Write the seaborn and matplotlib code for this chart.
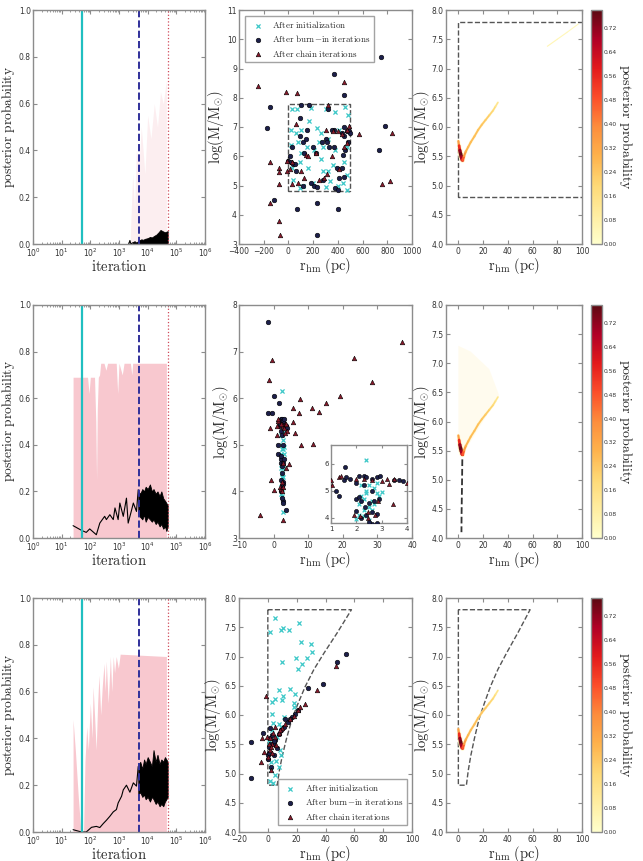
import numpy as np
import matplotlib
matplotlib.use("Agg")
import matplotlib.pyplot as plt
import seaborn as sns
from matplotlib.collections import LineCollection
from matplotlib.cm import ScalarMappable
from matplotlib.colors import Normalize, LinearSegmentedColormap

# ---------------- data ----------------
# iteration panels (left column)
pink1_x = [2500, 3000, 3500, 4000, 5000, 6000, 8000, 10000, 13000, 17000, 22000, 28000, 35000, 45000]
pink1_y = [0.05, 0.3, 0.15, 0.4, 0.35, 0.5, 0.3, 0.55, 0.45, 0.6, 0.5, 0.65, 0.6, 0.7]
line1_x = [2200, 2400, 2600, 3000]
line1_y = [0.0, 0.015, 0.0, 0.005]
dense1_x = [3000, 3500, 4000, 5000, 6000, 7000, 8000, 10000, 12000, 14000, 17000, 20000, 24000, 28000, 33000, 40000, 50000]
dense1_hi = [0.008, 0.012, 0.006, 0.015, 0.02, 0.018, 0.022, 0.025, 0.03, 0.028, 0.035, 0.04, 0.05, 0.06, 0.055, 0.05, 0.055]
dense1_lo = [0.0] * 17

pink2_x = [25, 40, 55, 80, 90, 100, 140, 155, 165, 175, 190, 210, 230, 300, 350, 400, 800, 900, 1000, 1300, 1500, 2500, 2800, 3000, 45000]
pink2_y = [0.69, 0.69, 0.69, 0.69, 0.62, 0.69, 0.69, 0.5, 0.25, 0.55, 0.69, 0.7, 0.75, 0.75, 0.72, 0.75, 0.75, 0.62, 0.75, 0.7, 0.75, 0.75, 0.7, 0.75, 0.75]
line2_x = [25, 49, 72, 95, 162, 214, 316, 363, 479, 631, 724, 933, 1070, 1410, 1820, 2090, 2750, 3160, 4070, 4680]
line2_y = [0.053, 0.033, 0.024, 0.039, 0.014, 0.064, 0.093, 0.079, 0.10, 0.079, 0.129, 0.079, 0.15, 0.093, 0.171, 0.064, 0.12, 0.15, 0.114, 0.207]
dense_x = [4700, 5500, 6500, 7500, 8500, 10000, 12000, 14000, 16000, 19000, 22000, 26000, 30000, 35000, 40000, 45000, 50000]
dense2_hi = [0.2, 0.19, 0.21, 0.2, 0.22, 0.21, 0.23, 0.2, 0.21, 0.19, 0.2, 0.18, 0.2, 0.17, 0.16, 0.15, 0.14]
dense2_lo = [0.1, 0.09, 0.08, 0.1, 0.07, 0.09, 0.08, 0.07, 0.08, 0.06, 0.07, 0.05, 0.06, 0.04, 0.05, 0.03, 0.05]

pink3_x = [25, 30, 38, 45, 50, 58, 65, 75, 85, 100, 115, 125, 140, 160, 180, 200, 230, 260, 300, 330, 360, 420, 500, 560, 630, 700, 800, 950, 1100, 45000]
pink3_y = [0.48, 0.35, 0.15, 0.03, 0.0, 0.0, 0.3, 0.45, 0.35, 0.55, 0.4, 0.62, 0.5, 0.35, 0.55, 0.67, 0.5, 0.62, 0.72, 0.6, 0.73, 0.55, 0.75, 0.6, 0.75, 0.68, 0.75, 0.7, 0.76, 0.75]
line3_x = [25, 49, 72, 110, 162, 214, 282, 363, 479, 631, 813, 933, 1230, 1410, 1820, 2400, 3160, 4070, 4680]
line3_y = [0.01, 0.0, 0.0, 0.02, 0.024, 0.019, 0.036, 0.05, 0.067, 0.086, 0.096, 0.124, 0.153, 0.18, 0.2, 0.17, 0.21, 0.196, 0.28]
dense3_hi = [0.28, 0.3, 0.27, 0.31, 0.29, 0.32, 0.3, 0.28, 0.35, 0.3, 0.33, 0.29, 0.31, 0.3, 0.32, 0.31, 0.3]
dense3_lo = [0.16, 0.17, 0.15, 0.16, 0.14, 0.15, 0.13, 0.15, 0.14, 0.12, 0.13, 0.11, 0.12, 0.11, 0.13, 0.14, 0.15]

iter_marks = [50, 5000, 50000]  # init, burn-in, chain end

# scatter panels (middle column): r_hm (pc), log M
init1_r = [30, 70, 180, 300, 380, 460, 480, 20, 60, 100, 170, 230, 260, 320, 410, 470, 20, 80, 150, 250, 380, 450,
           30, 90, 160, 260, 320, 440, 40, 120, 200, 280, 340, 400, 470, 100, 210, 360, 470, 280, 90, 300]
init1_m = [7.6, 7.6, 7.65, 7.6, 7.5, 7.7, 7.4, 6.9, 6.8, 6.9, 7.2, 6.95, 6.8, 6.6, 6.9, 6.3, 6.4, 6.5, 6.3, 6.5, 6.2, 5.8,
           5.6, 5.8, 5.6, 5.9, 5.5, 5.1, 5.2, 5.0, 5.1, 5.5, 5.15, 5.0, 5.35, 6.1, 6.2, 5.7, 4.85, 6.3, 4.9, 4.95]
burn1_r = [750, 365, 450, -150, -170, 780, 730, 95, 100, 170, 400, 230, 230, 70, -120, 30, 10, 0, 20, 40, 50, 60,
           120, 140, 150, 130, 200, 220, 180, 210, 230, 280, 300, 310, 330, 370, 370, 390, 380, 400, 410,
           430, 450, 430, 450, 470, 490, 500, 480, 440, 350, 270, 120, 90, 320, 450, 460]
burn1_m = [9.4, 8.8, 8.1, 7.7, 6.95, 7.05, 6.2, 7.3, 7.75, 7.75, 4.2, 4.4, 3.3, 4.2, 4.5, 6.3, 6.0, 5.85, 5.8, 5.75, 5.75, 5.5,
           6.5, 6.6, 6.9, 6.1, 6.3, 6.1, 5.1, 5.0, 4.95, 5.2, 6.6, 6.5, 6.3, 6.9, 6.3, 5.6, 4.9, 4.85, 5.25,
           5.6, 5.3, 6.8, 6.7, 6.85, 6.85, 6.8, 6.5, 6.05, 6.9, 6.5, 5.0, 6.7, 7.6, 7.0, 6.2]
chain1_r = [-250, -20, 70, 450, 840, 570, 760, 820, -150, -80, -80, -80, -150, -80, -70, 10, -10, -10, 30, 30, 80, 130,
            140, 160, 220, 250, 290, 300, 310, 360, 410, 470, 490, 470, 430, 450, 100, 60, 320, 400, 350]
chain1_m = [8.4, 8.2, 8.15, 8.55, 6.8, 6.75, 5.05, 5.15, 5.8, 5.6, 5.45, 5.05, 4.4, 3.8, 3.3, 5.55, 5.5, 5.85, 5.05, 5.8, 5.1, 5.25,
            6.05, 6.0, 6.1, 5.2, 5.25, 6.9, 5.4, 6.85, 5.55, 6.9, 7.05, 6.45, 6.75, 6.3, 5.5, 7.1, 7.75, 6.85, 6.0]

init2_r = [2.4, 2.0, 2.1, 2.3, 2.5, 2.6, 2.2, 2.4, 2.7, 2.8, 2.9, 2.5, 2.3, 2.6, 2.7, 2.1, 3.0, 2.4, 2.5, 2.8, 2.2, 2.6, 2.3]
init2_m = [6.15, 3.95, 4.1, 4.3, 4.4, 4.6, 4.8, 5.0, 5.1, 4.9, 4.8, 5.2, 4.7, 4.3, 4.5, 4.5, 4.95, 4.9, 3.9, 5.3, 5.2, 3.55, 4.05]
burn2_r = [-1.5, 0.1, -1.55, -0.6, 2.8, 3.6, 2.6, 1.55, 1.2, 1.3, 1.5, 1.6, 1.75, 2.0, 2.1, 2.3, 2.4, 2.6, 2.8, 2.95, 3.5, 3.7, 3.85,
           2.0, 2.1, 2.2, 2.35, 2.4, 2.6, 2.8, 2.0, 2.2, 2.5, 2.7, 2.5, 2.9, 2.3, 2.6]
burn2_m = [7.63, 6.04, 5.69, 5.68, 3.79, 3.6, 3.75, 5.9, 5.0, 4.8, 5.4, 5.5, 5.45, 5.3, 5.55, 5.55, 5.5, 5.45, 5.5, 5.55, 5.4, 5.4, 5.35,
           4.7, 4.75, 4.6, 4.4, 4.1, 4.2, 4.15, 4.25, 4.0, 4.55, 4.6, 3.85, 4.7, 5.2, 5.0]
chain2_r = [-0.6, -1.3, 23.2, 28.5, 37, 19.3, 15, 11.1, 13, 7.5, 5.7, 7.2, 6.2, 8, 11.4, -4, -0.8, 0.1, 2.6, -1.1, 4, 5.5, 4.4,
            1.0, 1.05, 1.3, 1.4, 2.6, 3.0, 3.3, 3.45, 2.85, 1.9, 2.15, 2.45, 2.75, 3.2, 2.3, 2.45, 3.5, 2.0]
chain2_m = [6.82, 6.4, 6.86, 6.34, 7.21, 6.04, 5.9, 5.79, 5.71, 5.98, 5.79, 5.69, 5.25, 5.0, 5.02, 3.5, 4.24, 4.04, 3.39, 5.36, 5.29, 5.48, 4.59,
            5.4, 5.2, 5.5, 5.55, 5.4, 5.35, 5.25, 4.5, 4.6, 4.1, 4.05, 4.2, 4.1, 5.45, 5.45, 4.0, 5.45, 5.45]

init3_r = [5.1, 9.3, 10.3, 14.9, 21.4, 23.1, 29.6, 30.3, 1.2, 10, 19.6, 20.7, 24, 27.3, 7.5, 15.2, 2.8, 5.1, 10.5, 9.8, 19, 17.9,
           2.8, 11, 17.9, 3.5, 7.5, 9.1, 2.8, 6.3, 8.6, 2.1, 5.8, 7.5, 2.3, 4.7, 1.6, 3.3, 0.9, 4, 9.3, 1.2]
init3_m = [7.65, 7.46, 7.49, 7.46, 7.58, 7.25, 7.21, 7.08, 7.42, 6.9, 6.97, 6.78, 6.87, 6.97, 6.43, 6.44, 6.22, 6.27, 6.32, 6.25, 6.36, 6.2,
           6.02, 5.97, 6.13, 5.86, 5.84, 5.79, 5.74, 5.62, 5.4, 5.2, 5.21, 5.11, 5.06, 4.97, 4.88, 4.83, 5.54, 5.5, 5.31, 5.35]
burn3_r = [-11.7, -11.7, -3.5, 54, 48.3, 38.5, 28, 21, 19, 16.8, 14, 11, 9.1, 7.5, 5.1, 3.3, 0.5, 1.6, -0.2, 2.3, 4, 1.2, 6.3, 12.1, 15.6,
           1, 2, 3, 0.3, 4.5]
burn3_m = [5.54, 4.92, 5.69, 7.04, 6.9, 6.53, 6.46, 6.08, 6.02, 5.96, 5.88, 5.79, 5.74, 5.68, 5.57, 5.51, 5.45, 5.6, 5.31, 5.11, 5.31, 5.77, 5.43, 5.93, 5.93,
           5.35, 5.5, 5.65, 5.25, 5.55]
chain3_r = [-1.2, -4.2, -4.9, -3, 47, 34.3, 25.9, 20.7, 17.9, 15.6, 12.1, 9.8, 7.5, 5.1, 2.8, 1.2, 2.1, -0.7, 4.7, 5.4, -0.2, 8.6, 22.1,
            1.5, 3, 0.5, 2.5, 3.5]
chain3_m = [6.33, 5.6, 5.2, 5.37, 6.84, 6.43, 6.19, 6.08, 5.99, 5.93, 5.85, 5.77, 5.69, 5.62, 5.51, 5.4, 5.06, 5.62, 5.79, 5.48, 5.28, 5.74, 6.13,
            5.6, 5.35, 5.5, 5.45, 5.7]

# prior boundaries
box_r = [0, 0, 500, 500, 0]
box_m = [4.8, 7.8, 7.8, 4.8, 4.8]
wedge_r = [0, 0, 6.5, 8, 10, 13, 16.6, 21, 26, 32, 39, 48, 58, 0]
wedge_m = [7.8, 4.8, 4.8, 5.05, 5.3, 5.6, 5.92, 6.2, 6.49, 6.78, 7.06, 7.4, 7.8, 7.8]
edge2_r = [3.2, 3.0, 2.8, 2.6, 2.5]
edge2_m = [5.35, 5.0, 4.7, 4.4, 4.1]

# posterior ridge (right column)
ridge_r = [0.0, 0.6, 1.2, 1.8, 2.4, 3.0, 3.5, 4.5, 6, 8, 10, 13, 16, 19, 22, 25, 28, 30, 32]
ridge_m = [5.76, 5.68, 5.6, 5.54, 5.49, 5.44, 5.43, 5.5, 5.58, 5.66, 5.74, 5.84, 5.95, 6.04, 6.12, 6.2, 6.28, 6.35, 6.42]
ridge_p = [0.25, 0.45, 0.65, 0.78, 0.75, 0.65, 0.55, 0.4, 0.3, 0.28, 0.27, 0.27, 0.26, 0.25, 0.24, 0.22, 0.2, 0.17, 0.12]
far_r = [72, 80, 88, 97]
far_m = [7.38, 7.5, 7.62, 7.76]
far_p = [0.05, 0.05, 0.04, 0.03]
fan_r = [0, 0, 10, 25, 33, 4]
fan_m = [5.5, 7.3, 7.2, 6.9, 6.45, 5.45]
cbar_ticks = [0.0, 0.08, 0.16, 0.24, 0.32, 0.40, 0.48, 0.56, 0.64, 0.72]

# ---------------- style ----------------
sns.set_style("ticks", {"xtick.direction": "in", "ytick.direction": "in"})
plt.rcParams.update({
    "font.family": ["DejaVu Sans"],
    "mathtext.fontset": "cm",
    "axes.edgecolor": "#8c8c8c",
    "axes.linewidth": 1.0,
    "xtick.color": "#8c8c8c", "ytick.color": "#8c8c8c",
    "xtick.labelcolor": "#333333", "ytick.labelcolor": "#333333",
    "xtick.labelsize": 5.5, "ytick.labelsize": 5.5,
    "xtick.major.size": 3, "ytick.major.size": 3,
    "xtick.minor.size": 1.5, "ytick.minor.size": 1.5,
    "xtick.major.pad": 2.0, "ytick.major.pad": 1.5,
    "xtick.top": True, "ytick.right": True,
})

PINK = "#f8c8cf"
CYAN = "#3cc8c8"
NAVY = "#1c1f4a"
CRIMSON = "#8a1a2c"
LAB = 10

W, H = 643, 861


def box(x0, y0, x1, y1):
    return [x0 / W, 1 - y1 / H, (x1 - x0) / W, (y1 - y0) / H]


def iter_panel(ax, px, py, palpha, lx, ly, dx, dlo, dhi):
    ax.fill_between(px, 0, py, color=PINK, alpha=palpha, lw=0)
    ax.fill_between(dx, dlo, dhi, color="k", lw=0.6)
    sns.lineplot(x=lx, y=ly, ax=ax, color="k", lw=0.8)
    ax.axvline(iter_marks[0], color="#20bfc0", lw=1.6)
    ax.axvline(iter_marks[1], color="#30309a", lw=1.4, ls="--")
    ax.axvline(iter_marks[2], color="#d04a5a", lw=0.9, ls=":")
    ax.set_xscale("log")
    ax.set_xlim(1, 1e6)
    ax.set_ylim(0, 1)
    ax.set_yticks(np.arange(0, 1.01, 0.2))
    ax.set_xlabel(r"$\mathrm{iteration}$", fontsize=LAB + 0.5, labelpad=0)
    ax.set_ylabel(r"$\mathrm{posterior\ probability}$", fontsize=LAB - 0.3, labelpad=1)


def scatter_sets(ax, ir, im, br, bm, cr, cm, s=11, labels=True):
    sns.scatterplot(x=ir, y=im, ax=ax, marker="x", color=CYAN, s=s * 0.8, linewidth=0.9,
                    label=r"$\mathrm{After\ initialization}$" if labels else None, zorder=3)
    sns.scatterplot(x=br, y=bm, ax=ax, marker="o", color=NAVY, edgecolor="k", linewidth=0.4, s=s,
                    label=r"$\mathrm{After\ burn\!-\!in\ iterations}$" if labels else None, zorder=3)
    sns.scatterplot(x=cr, y=cm, ax=ax, marker="^", color=CRIMSON, edgecolor="k", linewidth=0.4, s=s,
                    label=r"$\mathrm{After\ chain\ iterations}$" if labels else None, zorder=4)


def mass_labels(ax, pad=1):
    ax.set_xlabel(r"$\mathrm{r_{hm}\ (pc)}$", fontsize=LAB + 0.5, labelpad=0)
    ax.set_ylabel(r"$\mathrm{log(M/M_{\odot})}$", fontsize=LAB + 0.5, labelpad=pad)


cmap = LinearSegmentedColormap.from_list(
    "post", ["#ffffcc", "#ffeda0", "#fed976", "#feb24c", "#fd8d3c", "#fc4e2a", "#e31a1c", "#b10026", "#5c0a12"])
norm = Normalize(0, 0.78)


def ridge(ax, r, m, p, wscale=2.4, glow=True):
    pts = np.column_stack([r, m])
    segs = np.stack([pts[:-1], pts[1:]], axis=1)
    pv = np.array(p)
    pm = 0.5 * (pv[:-1] + pv[1:])
    if glow:
        ax.add_collection(LineCollection(segs, colors=cmap(norm(0.04)), linewidths=1.0 + 4 * pm,
                                         alpha=0.6, capstyle="round"))
    ax.add_collection(LineCollection(segs, colors=cmap(norm(pm)), linewidths=0.7 + wscale * pm,
                                     capstyle="round", joinstyle="round"))


def map_panel(ax, cax):
    ax.set_xlim(-10, 100)
    ax.set_ylim(4, 8)
    ax.set_xticks(np.arange(0, 101, 20))
    ax.set_yticks(np.arange(4, 8.01, 0.5))
    mass_labels(ax, pad=0)
    cb = plt.colorbar(ScalarMappable(norm=norm, cmap=cmap), cax=cax, ticks=cbar_ticks)
    cb.outline.set_edgecolor("#8c8c8c")
    cb.ax.tick_params(labelsize=4.3, length=2, pad=1.5, direction="in", color="#8c8c8c")
    cb.ax.set_yticklabels(["%.2f" % t for t in cbar_ticks])
    cb.set_label(r"$\mathrm{posterior\ probability}$", fontsize=LAB, rotation=270, labelpad=12)


fig = plt.figure(figsize=(6.43, 8.61), dpi=100)

rows = [(10, 244), (305, 538), (598, 832)]

# ---- left column
ax = fig.add_axes(box(33, rows[0][0], 205, rows[0][1]))
iter_panel(ax, pink1_x, pink1_y, 0.3, line1_x, line1_y, dense1_x, dense1_lo, dense1_hi)
ax = fig.add_axes(box(33, rows[1][0], 205, rows[1][1]))
iter_panel(ax, pink2_x, pink2_y, 1.0, line2_x, line2_y, dense_x, dense2_lo, dense2_hi)
ax = fig.add_axes(box(33, rows[2][0], 205, rows[2][1]))
iter_panel(ax, pink3_x, pink3_y, 1.0, line3_x, line3_y, dense_x, dense3_lo, dense3_hi)

# ---- middle column
ax = fig.add_axes(box(239, rows[0][0], 412, rows[0][1]))
ax.plot(box_r, box_m, ls="--", color="#555555", lw=1.0, zorder=2)
scatter_sets(ax, init1_r, init1_m, burn1_r, burn1_m, chain1_r, chain1_m)
ax.set_xlim(-400, 1000)
ax.set_ylim(3, 11)
ax.set_xticks(np.arange(-400, 1001, 200))
mass_labels(ax)
ax.legend(loc="upper left", fontsize=6.5, scatterpoints=1, frameon=True, fancybox=False,
          edgecolor="#8c8c8c", handletextpad=0.6, borderpad=0.4, labelspacing=0.35,
          bbox_to_anchor=(0.01, 0.995))

ax = fig.add_axes(box(239, rows[1][0], 412, rows[1][1]))
scatter_sets(ax, init2_r, init2_m, burn2_r, burn2_m, chain2_r, chain2_m, labels=False)
ax.set_xlim(-10, 40)
ax.set_ylim(3, 8)
mass_labels(ax)
axin = fig.add_axes(box(331, 445, 407, 523))
scatter_sets(axin, init2_r, init2_m, burn2_r, burn2_m, chain2_r, chain2_m, s=9, labels=False)
axin.set_xlim(1, 4)
axin.set_ylim(3.8, 6.7)
axin.set_xticks([1, 2, 3, 4])
axin.set_yticks([4, 5, 6])
axin.tick_params(labelsize=5, length=2)

ax = fig.add_axes(box(239, rows[2][0], 412, rows[2][1]))
ax.plot(wedge_r, wedge_m, ls="--", color="#555555", lw=1.0, zorder=2)
scatter_sets(ax, init3_r, init3_m, burn3_r, burn3_m, chain3_r, chain3_m)
ax.set_xlim(-20, 100)
ax.set_ylim(4, 8)
ax.set_yticks(np.arange(4, 8.01, 0.5))
mass_labels(ax)
ax.legend(loc="lower right", fontsize=6.5, scatterpoints=1, frameon=True, fancybox=False,
          edgecolor="#8c8c8c", handletextpad=0.6, borderpad=0.4, labelspacing=0.35,
          bbox_to_anchor=(0.995, 0.01))

# ---- right column
ax = fig.add_axes(box(446, rows[0][0], 582, rows[0][1]))
ax.plot(box_r, box_m, ls="--", color="#555555", lw=1.0)
ridge(ax, ridge_r, ridge_m, ridge_p)
ridge(ax, far_r, far_m, far_p, glow=False)
map_panel(ax, fig.add_axes(box(591, rows[0][0], 602, rows[0][1])))

ax = fig.add_axes(box(446, rows[1][0], 582, rows[1][1]))
ax.fill(fan_r, fan_m, color="#fff6d0", alpha=0.35, lw=0)
ax.plot(edge2_r, edge2_m, ls="--", color="#333333", lw=1.3)
ridge(ax, ridge_r, ridge_m, ridge_p)
map_panel(ax, fig.add_axes(box(591, rows[1][0], 602, rows[1][1])))

ax = fig.add_axes(box(446, rows[2][0], 582, rows[2][1]))
ax.plot(wedge_r, wedge_m, ls="--", color="#555555", lw=1.0)
ridge(ax, ridge_r, ridge_m, ridge_p)
map_panel(ax, fig.add_axes(box(591, rows[2][0], 602, rows[2][1])))

fig.savefig("out.png", dpi=100)
